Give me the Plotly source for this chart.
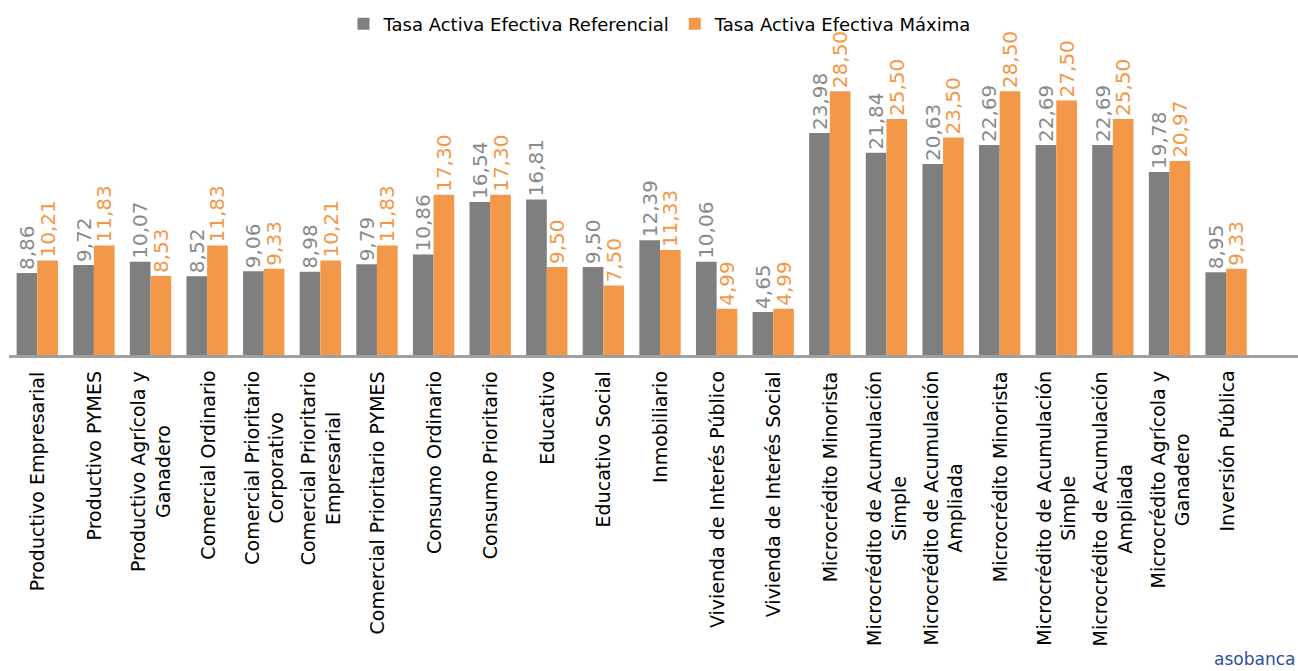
import plotly.graph_objects as go

categories = [
    "Productivo Empresarial", "Productivo PYMES", "Productivo Agrícola y<br>Ganadero",
    "Comercial Ordinario", "Comercial Prioritario<br>Corporativo", "Comercial Prioritario<br>Empresarial",
    "Comercial Prioritario PYMES", "Consumo Ordinario", "Consumo Prioritario", "Educativo",
    "Educativo Social", "Inmobiliario", "Vivienda de Interés Público", "Vivienda de Interés Social",
    "Microcrédito Minorista", "Microcrédito de Acumulación<br>Simple", "Microcrédito de Acumulación<br>Ampliada",
    "Microcrédito Minorista", "Microcrédito de Acumulación<br>Simple", "Microcrédito de Acumulación<br>Ampliada",
    "Microcrédito Agrícola y<br>Ganadero", "Inversión Pública",
]
referencial = [8.86, 9.72, 10.07, 8.52, 9.06, 8.98, 9.79, 10.86, 16.54, 16.81, 9.50, 12.39,
               10.06, 4.65, 23.98, 21.84, 20.63, 22.69, 22.69, 22.69, 19.78, 8.95]
maxima = [10.21, 11.83, 8.53, 11.83, 9.33, 10.21, 11.83, 17.30, 17.30, 9.50, 7.50, 11.33,
          4.99, 4.99, 28.50, 25.50, 23.50, 28.50, 27.50, 25.50, 20.97, 9.33]
series_names = ["Tasa Activa Efectiva Referencial", "Tasa Activa Efectiva Máxima"]
logo_text = "asobanca"

GRAY = "#7f7f7f"
ORANGE = "#f39848"
FONT = "DejaVu Sans"

W, H = 1298, 671
ML, MR, MT, MB = 9, 0, 31, 316
PW, PH = W - ML - MR, H - MT - MB

def fmt(v):
    return f"{v:.2f}".replace(".", ",")

x = list(range(len(categories)))

fig = go.Figure()
for name, vals, col, tcol in [(series_names[0], referencial, GRAY, "#8a8a8a"),
                              (series_names[1], maxima, ORANGE, ORANGE)]:
    fig.add_trace(go.Bar(
        x=x, y=vals, name=name, marker=dict(color=col, line=dict(width=0)),
        text=[fmt(v) for v in vals], textposition="outside", textangle=-90,
        textfont=dict(family=FONT, size=20, color=tcol), constraintext="none",
        cliponaxis=False, hoverinfo="skip",
    ))

for i, c in enumerate(categories):
    fig.add_annotation(x=i, y=0, xref="x", yref="paper", text=c, textangle=-90,
                       showarrow=False, xanchor="center", yanchor="top", yshift=-14,
                       align="center", font=dict(family=FONT, size=19, color="#000000"))

fig.add_annotation(x=(1297 - ML) / PW, y=-(659 - (H - MB)) / PH, xref="paper", yref="paper",
                   text=logo_text, showarrow=False, xanchor="right", yanchor="middle",
                   font=dict(family=FONT, size=17, color="#2e4f9e"))

fig.update_layout(
    width=W, height=H,
    margin=dict(l=ML, r=MR, t=MT, b=MB, autoexpand=False),
    paper_bgcolor="white", plot_bgcolor="white",
    barmode="group", bargap=0.27, bargroupgap=0,
    showlegend=True,
    legend=dict(orientation="h", x=(660 - ML) / PW, xanchor="center", y=1 - 24 / H, yanchor="middle",
                yref="container", font=dict(family=FONT, size=18, color="#000000"),
                bgcolor="rgba(0,0,0,0)", itemclick=False),
    xaxis=dict(range=[-0.5, 22.27], showticklabels=False, showgrid=False, zeroline=False,
               showline=True, linecolor="#a0a0a0", linewidth=3, ticks=""),
    yaxis=dict(range=[0, 35], visible=False, showgrid=False, zeroline=False),
)

fig.write_html("out.html", config={"displayModeBar": False},
               post_script="document.body.style.margin='0';document.body.style.overflow='hidden';")
